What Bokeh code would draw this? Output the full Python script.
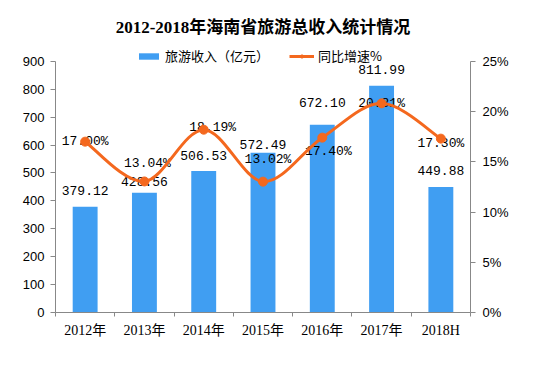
from bokeh.plotting import figure
from bokeh.models import (Range1d, LinearAxis, FixedTicker, Legend, LegendItem,
                          ColumnDataSource, PrintfTickFormatter)
from bokeh.core.properties import value
from bokeh.embed import file_html
from bokeh.resources import INLINE

# ---- data ----
categories = ["2012年", "2013年", "2014年", "2015年", "2016年", "2017年", "2018H"]
revenue = [379.12, 428.56, 506.53, 572.49, 672.10, 811.99, 449.88]
growth = [17.00, 13.04, 18.19, 13.02, 17.40, 20.81, 17.30]
left_ticks = [0, 100, 200, 300, 400, 500, 600, 700, 800, 900]
right_ticks = [0, 5, 10, 15, 20, 25]
title_text = "2012-2018年海南省旅游总收入统计情况"
bar_name = "旅游收入（亿元）"
line_name = "同比增速%"

# label nudges (screen pixels), as placed in the original
bar_label_dy = [-16, -11, -16, -8, -22, -16, -16]
pct_label_dx = [0, 3, 9, 5, 6, 0, 0]
pct_label_dy = [0, -18, -2, -22, 14, 0, 5]

BLUE = "#409ef2"
ORANGE = "#f4681e"
AXIS = "#888888"
SERIF = "Liberation Serif, Noto Sans CJK SC"
MONO = "Liberation Mono"
SANS = "Liberation Sans"

n = len(categories)
idx = list(range(n))

# frame extends a little above the axes' top so the legend can sit inside it
HEADROOM = 60.0 / 900.0
left_max = left_ticks[-1] * (1 + HEADROOM)
right_max = right_ticks[-1] * (1 + HEADROOM)

p = figure(width=527, height=349, output_backend="svg", toolbar_location=None,
           x_range=Range1d(-0.5, n - 0.5), y_range=Range1d(left_ticks[0], left_max),
           min_border_left=55, min_border_right=57, min_border_top=44, min_border_bottom=37)
p.extra_y_ranges = {"pct": Range1d(right_ticks[0], right_max)}
p.outline_line_color = None
p.xgrid.visible = False
p.ygrid.visible = False

p.title.text = title_text
p.title.align = "center"
p.title.offset = -8
p.title.text_font = SERIF
p.title.text_font_size = "17px"
p.title.text_font_style = "bold"
p.title.text_color = "#000000"
p.title.standoff = 15

# x axis: labels at centres, tick marks at category boundaries
xa = p.xaxis[0]
xa.ticker = FixedTicker(ticks=idx, minor_ticks=[i - 0.5 for i in range(n + 1)])
xa.major_label_overrides = {i: c for i, c in zip(idx, categories)}
xa.major_tick_out = 0
xa.major_tick_in = 0
xa.minor_tick_out = 4
xa.minor_tick_in = 0
xa.minor_tick_line_color = AXIS
xa.axis_line_color = AXIS
xa.major_label_text_font = SERIF
xa.major_label_text_font_size = "14px"
xa.major_label_text_color = "#000000"
xa.major_label_standoff = 6

ya = p.yaxis[0]
ya.ticker = FixedTicker(ticks=left_ticks)
ya.bounds = (left_ticks[0], left_ticks[-1])
ya.minor_tick_line_color = None
ya.major_tick_out = 5
ya.major_tick_in = 0
ya.major_tick_line_color = AXIS
ya.axis_line_color = AXIS
ya.major_label_text_font = SANS
ya.major_label_text_font_size = "13px"
ya.major_label_text_color = "#000000"
ya.major_label_standoff = 6

ra = LinearAxis(y_range_name="pct", ticker=FixedTicker(ticks=right_ticks),
                formatter=PrintfTickFormatter(format="%d%%"),
                bounds=(right_ticks[0], right_ticks[-1]))
ra.minor_tick_line_color = None
ra.major_tick_out = 5
ra.major_tick_in = 0
ra.major_tick_line_color = AXIS
ra.axis_line_color = AXIS
ra.major_label_text_font = SANS
ra.major_label_text_font_size = "13px"
ra.major_label_text_color = "#000000"
ra.major_label_standoff = 7
p.add_layout(ra, "right")

# bars
bar_src = ColumnDataSource(dict(x=idx, top=revenue, label=[f"{v:.2f}" for v in revenue],
                                dy=bar_label_dy))
bars = p.vbar(x="x", top="top", width=0.42, source=bar_src, fill_color=BLUE, line_color=None)
p.text(x="x", y="top", text="label", source=bar_src, text_align="center",
       text_baseline="middle", y_offset="dy", text_font=value(MONO),
       text_font_size="13px", text_color="#000000")

# growth labels
g_src = ColumnDataSource(dict(x=idx, y=growth, label=[f"{g:.2f}%" for g in growth],
                              dx=pct_label_dx, dy=pct_label_dy))
p.text(x="x", y="y", text="label", source=g_src, y_range_name="pct", text_align="center",
       text_baseline="middle", x_offset="dx", y_offset="dy", text_font=value(MONO),
       text_font_size="13px", text_color="#000000")

# smooth line (Catmull-Rom as cubic Bezier segments through the data points)
seg = dict(x0=[], y0=[], x1=[], y1=[], cx0=[], cy0=[], cx1=[], cy1=[])
for i in range(n - 1):
    a = max(i - 1, 0)
    d = min(i + 2, n - 1)
    seg["x0"].append(idx[i]); seg["y0"].append(growth[i])
    seg["x1"].append(idx[i + 1]); seg["y1"].append(growth[i + 1])
    seg["cx0"].append(idx[i] + (idx[i + 1] - idx[a]) / 6)
    seg["cy0"].append(growth[i] + (growth[i + 1] - growth[a]) / 6)
    seg["cx1"].append(idx[i + 1] - (idx[d] - idx[i]) / 6)
    seg["cy1"].append(growth[i + 1] - (growth[d] - growth[i]) / 6)
curve = p.bezier(x0="x0", y0="y0", x1="x1", y1="y1", cx0="cx0", cy0="cy0", cx1="cx1", cy1="cy1",
                 source=ColumnDataSource(seg), y_range_name="pct", line_color=ORANGE, line_width=3)
dots = p.scatter(idx, growth, y_range_name="pct", size=9, fill_color=ORANGE, line_color=ORANGE)

legend = Legend(items=[LegendItem(label=bar_name, renderers=[bars]),
                       LegendItem(label=line_name, renderers=[curve, dots])],
                orientation="horizontal", location=(81, 247),
                glyph_width=25, glyph_height=8, label_height=14, label_standoff=4,
                spacing=20, padding=0, margin=0,
                label_text_font="Noto Sans CJK SC", label_text_font_size="13px",
                label_text_color="#000000", border_line_color=None,
                background_fill_alpha=0)
p.add_layout(legend)

open("out.html", "w").write(file_html(p, INLINE))
